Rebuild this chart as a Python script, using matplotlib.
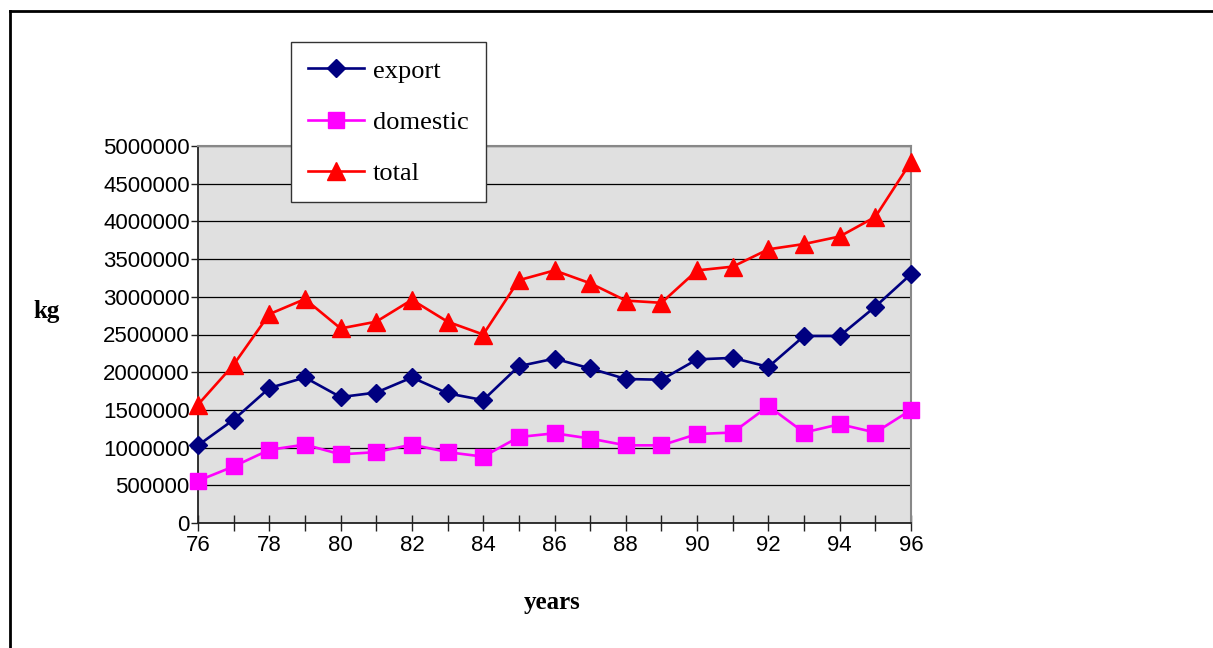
import matplotlib
matplotlib.use("Agg")
import matplotlib.pyplot as plt
from matplotlib.lines import Line2D
from matplotlib.ticker import MultipleLocator, FuncFormatter

years = [76, 77, 78, 79, 80, 81, 82, 83, 84, 85, 86,
         87, 88, 89, 90, 91, 92, 93, 94, 95, 96]
export = [1030000, 1370000, 1790000, 1930000, 1670000, 1730000, 1930000,
          1720000, 1630000, 2080000, 2180000, 2050000, 1910000, 1900000,
          2170000, 2190000, 2070000, 2480000, 2480000, 2870000, 3300000]
domestic = [560000, 750000, 970000, 1040000, 910000, 940000, 1040000,
            940000, 880000, 1140000, 1190000, 1120000, 1030000, 1030000,
            1180000, 1200000, 1550000, 1200000, 1310000, 1200000, 1500000]
total = [1570000, 2100000, 2770000, 2970000, 2580000, 2670000, 2960000,
         2670000, 2500000, 3220000, 3350000, 3180000, 2950000, 2920000,
         3350000, 3400000, 3630000, 3700000, 3800000, 4060000, 4790000]

W, H = 1213, 648
fig = plt.figure(figsize=(W / 100, H / 100), dpi=100)
ax = fig.add_axes([198 / W, 1 - 523 / H, (911 - 198) / W, (523 - 146) / H])
ax.set_facecolor("#e0e0e0")

ax.plot(years, export, color="#000080", lw=1.9, marker="D", ms=9.5,
        label="export", zorder=3, clip_on=False)
ax.plot(years, domestic, color="#ff00ff", lw=1.9, marker="s", ms=11,
        label="domestic", zorder=3, clip_on=False)
ax.plot(years, total, color="#ff0000", lw=1.9, marker="^", ms=12.5,
        label="total", zorder=3, clip_on=False)

ax.set_xlim(76, 96)
ax.set_ylim(0, 5000000)
ax.xaxis.set_major_locator(MultipleLocator(2))
ax.xaxis.set_minor_locator(MultipleLocator(1))
ax.yaxis.set_major_locator(MultipleLocator(500000))
ax.yaxis.set_major_formatter(FuncFormatter(lambda v, p: f"{int(round(v))}"))

ax.grid(axis="y", color="black", lw=0.9, zorder=1)
ax.set_axisbelow(True)

for side in ("left", "bottom"):
    ax.spines[side].set_color("#222222")
    ax.spines[side].set_linewidth(1.3)
for side in ("top", "right"):
    ax.spines[side].set_color("#888888")
    ax.spines[side].set_linewidth(1.5)

ax.tick_params(axis="x", which="both", direction="inout", length=11,
               width=1, color="#222222", pad=3)
ax.tick_params(axis="y", direction="out", length=5, width=1,
               color="#222222", pad=1)
for lbl in ax.get_xticklabels() + ax.get_yticklabels():
    lbl.set_fontfamily("Liberation Sans")
    lbl.set_fontsize(16)

fig.text(47 / W, 1 - 312 / H, "kg", ha="center", va="center",
         family="Liberation Serif", weight="bold", fontsize=18)
fig.text(552 / W, 1 - 602 / H, "years", ha="center", va="center",
         family="Liberation Serif", weight="bold", fontsize=18)

leg = ax.legend(loc="upper left", bbox_to_anchor=(291 / W, 1 - 42 / H),
                bbox_transform=fig.transFigure, frameon=True, fancybox=False,
                prop={"family": "Liberation Serif", "size": 19},
                handlelength=2.1, handletextpad=0.35, labelspacing=1.05,
                borderpad=0.65, borderaxespad=0)
leg.get_frame().set_edgecolor("#333333")
leg.get_frame().set_linewidth(1.0)
leg.get_frame().set_facecolor("white")
leg.get_frame().set_alpha(1)

# outer frame: top and left edges
fig.add_artist(Line2D([9.5 / W, 1], [1 - 11 / H, 1 - 11 / H],
                      transform=fig.transFigure, color="black", lw=2))
fig.add_artist(Line2D([9.5 / W, 9.5 / W], [0, 1 - 11 / H],
                      transform=fig.transFigure, color="black", lw=2))

fig.savefig("out.png", dpi=100)
